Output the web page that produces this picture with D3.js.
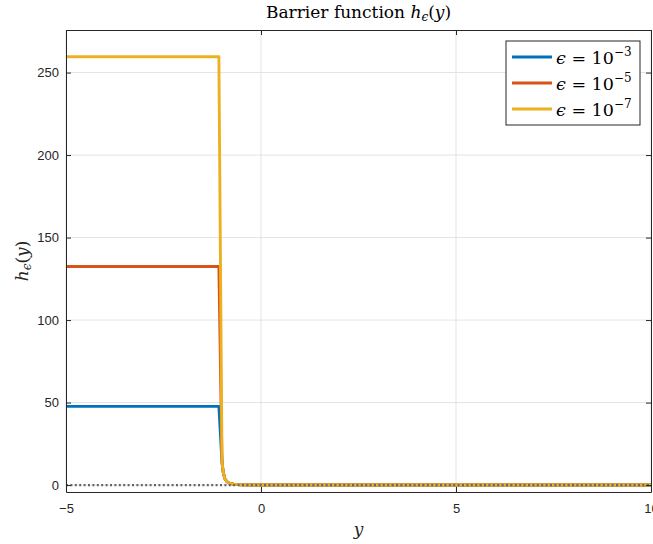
<!DOCTYPE html>
<html>
<head>
<meta charset="utf-8">
<script src="https://cdn.jsdelivr.net/npm/d3@7"></script>
<style>
  html, body { margin: 0; padding: 0; background: #fff; }
  svg { display: block; }
</style>
</head>
<body>
<div id="chart"></div>
<script>
// Sample points along y (non-uniform: dense where the barrier drops)
const yPoints = [-5, -1.08, -1.0, -0.97, -0.93, -0.87, -0.8, -0.7, -0.6, -0.5, 0, 5, 10];

// Barrier values h_eps(y) for each epsilon
const hEps3 = [47.7, 47.7, 14, 8, 4, 2, 1.0, 0.5, 0.25, 0.1, 0, 0, 0];
const hEps5 = [132.5, 132.5, 14, 8, 4, 2, 1.0, 0.5, 0.25, 0.1, 0, 0, 0];
const hEps7 = [259.6, 259.6, 14, 8, 4, 2, 1.0, 0.5, 0.25, 0.1, 0, 0, 0];

const seriesNames = ["-3", "-5", "-7"];
const seriesColors = ["#0072BD", "#D95319", "#EDB120"];

const xTicks = [-5, 0, 5, 10];
const yTicks = [0, 50, 100, 150, 200, 250];
const xDomain = [-5, 10];
const yDomain = [-4.2, 275.8];

const W = 653, H = 544;
const box = { left: 66, right: 651, top: 30, bottom: 492 };

const svg = d3.select("#chart").append("svg")
  .attr("width", W).attr("height", H);

const x = d3.scaleLinear().domain(xDomain).range([box.left, box.right]);
const y = d3.scaleLinear().domain(yDomain).range([box.bottom, box.top]);

const axisColor = "#262626";
const gridColor = "#e3e3e3";
const tickFont = "'Liberation Sans', Arial, Helvetica, sans-serif";
const texFont = "'DejaVu Serif', serif";

// Plot background
svg.append("rect")
  .attr("x", box.left).attr("y", box.top)
  .attr("width", box.right - box.left).attr("height", box.bottom - box.top)
  .attr("fill", "#fff");

// Grid
const grid = svg.append("g");
grid.selectAll(".gx").data(xTicks).join("line")
  .attr("x1", d => x(d)).attr("x2", d => x(d))
  .attr("y1", box.top).attr("y2", box.bottom)
  .attr("stroke", gridColor).attr("stroke-width", 1);
grid.selectAll(".gy").data(yTicks).join("line")
  .attr("y1", d => y(d)).attr("y2", d => y(d))
  .attr("x1", box.left).attr("x2", box.right)
  .attr("stroke", gridColor).attr("stroke-width", 1);

// Clip region for the data
svg.append("clipPath").attr("id", "plotclip").append("rect")
  .attr("x", box.left).attr("y", box.top)
  .attr("width", box.right - box.left).attr("height", box.bottom - box.top);

const line = d3.line().x(d => x(d[0])).y(d => y(d[1]));
const series = [hEps3, hEps5, hEps7];

const dataG = svg.append("g").attr("clip-path", "url(#plotclip)");
series.forEach((vals, i) => {
  dataG.append("path")
    .datum(yPoints.map((yy, k) => [yy, vals[k]]))
    .attr("d", line)
    .attr("fill", "none")
    .attr("stroke", seriesColors[i])
    .attr("stroke-width", 2.9)
    .attr("stroke-linejoin", "round");
});

// Zero reference (dotted)
dataG.append("line")
  .attr("x1", x(xDomain[0])).attr("x2", x(xDomain[1]))
  .attr("y1", y(0)).attr("y2", y(0))
  .attr("stroke", "#666").attr("stroke-width", 2.3)
  .attr("stroke-dasharray", "2,2.4");

// Axes (ticks point inward, mirrored on top/right)
function styleAxis(g) {
  g.selectAll("path.domain").attr("stroke", axisColor).attr("stroke-width", 1);
  g.selectAll(".tick line").attr("stroke", axisColor).attr("stroke-width", 1);
  g.selectAll(".tick text").attr("fill", axisColor)
    .style("font-family", tickFont).style("font-size", "13px");
}

svg.append("g").attr("transform", `translate(0,${box.bottom})`)
  .call(d3.axisBottom(x).tickValues(xTicks).tickSizeInner(-5).tickSizeOuter(0).tickPadding(12))
  .call(styleAxis);
svg.append("g").attr("transform", `translate(0,${box.top})`)
  .call(d3.axisTop(x).tickValues(xTicks).tickSizeInner(-5).tickSizeOuter(0).tickFormat(""))
  .call(styleAxis);
svg.append("g").attr("transform", `translate(${box.left},0)`)
  .call(d3.axisLeft(y).tickValues(yTicks).tickSizeInner(-5).tickSizeOuter(0).tickPadding(7))
  .call(styleAxis);
svg.append("g").attr("transform", `translate(${box.right},0)`)
  .call(d3.axisRight(y).tickValues(yTicks).tickSizeInner(-5).tickSizeOuter(0).tickFormat(""))
  .call(styleAxis);

// Title
const title = svg.append("text")
  .attr("x", (box.left + box.right) / 2).attr("y", 18)
  .attr("text-anchor", "middle")
  .style("font-family", texFont).style("font-size", "17px").attr("fill", "#000");
title.append("tspan").text("Barrier function ");
title.append("tspan").style("font-style", "italic").text("h");
title.append("tspan").style("font-style", "italic").style("font-size", "12px").attr("dy", 3).text("ϵ");
title.append("tspan").attr("dy", -3).text("(");
title.append("tspan").style("font-style", "italic").text("y");
title.append("tspan").text(")");

// X label
svg.append("text")
  .attr("x", (box.left + box.right) / 2).attr("y", 535)
  .attr("text-anchor", "middle")
  .style("font-family", texFont).style("font-size", "17px").style("font-style", "italic")
  .attr("fill", "#262626").text("y");

// Y label
const ylab = svg.append("text")
  .attr("transform", `translate(28,${(box.top + box.bottom) / 2}) rotate(-90)`)
  .attr("text-anchor", "middle")
  .style("font-family", texFont).style("font-size", "17px").attr("fill", "#262626");
ylab.append("tspan").style("font-style", "italic").text("h");
ylab.append("tspan").style("font-style", "italic").style("font-size", "12px").attr("dy", 3).text("ϵ");
ylab.append("tspan").attr("dy", -3).text("(");
ylab.append("tspan").style("font-style", "italic").text("y");
ylab.append("tspan").text(")");

// Legend
const lg = { x: 506, y: 41, w: 134, h: 84, row: 26 };
const legend = svg.append("g");
legend.append("rect")
  .attr("x", lg.x).attr("y", lg.y).attr("width", lg.w).attr("height", lg.h)
  .attr("fill", "#fff").attr("stroke", axisColor).attr("stroke-width", 1);
seriesNames.forEach((nm, i) => {
  const cy = lg.y + 16 + i * lg.row;
  legend.append("line")
    .attr("x1", lg.x + 6).attr("x2", lg.x + 46)
    .attr("y1", cy).attr("y2", cy)
    .attr("stroke", seriesColors[i]).attr("stroke-width", 2.9);
  const t = legend.append("text")
    .attr("x", lg.x + 50).attr("y", cy + 7)
    .style("font-family", texFont).style("font-size", "17.5px").attr("fill", "#000");
  t.append("tspan").style("font-style", "italic").text("ϵ");
  t.append("tspan").text(" = 10");
  t.append("tspan").style("font-size", "12px").attr("dy", -8).text("−" + nm.slice(1));
});
</script>
</body>
</html>
